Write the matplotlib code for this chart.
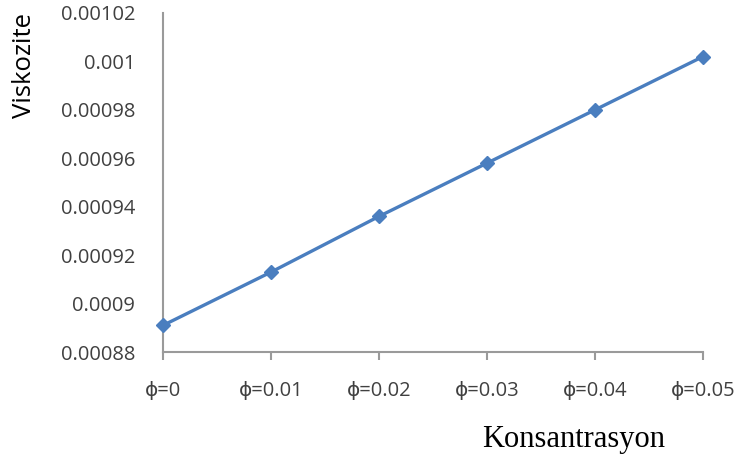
import matplotlib
matplotlib.use("Agg")
import matplotlib.pyplot as plt
from matplotlib.ticker import FixedLocator

categories = ["\u03d5=0", "\u03d5=0.01", "\u03d5=0.02", "\u03d5=0.03", "\u03d5=0.04", "\u03d5=0.05"]
viscosity = [0.000891, 0.000913, 0.000936, 0.000958, 0.000980, 0.001002]
y_ticks = [0.00088, 0.0009, 0.00092, 0.00094, 0.00096, 0.00098, 0.001, 0.00102]
y_tick_labels = ["0.00088", "0.0009", "0.00092", "0.00094", "0.00096", "0.00098", "0.001", "0.00102"]

fig = plt.figure(figsize=(7.41, 4.66), dpi=100)
ax = fig.add_axes([163 / 741, 1 - 352 / 466, 540 / 741, 339 / 466])

x = list(range(len(categories)))
ax.plot(x, viscosity, color="#4A7EBF", lw=2.4, marker="D", ms=7,
        markerfacecolor="#4A7EBF", markeredgecolor="#4A7EBF", clip_on=False, zorder=3)

ax.set_xlim(0, len(categories) - 1)
ax.set_ylim(0.00088, 0.00102)
ax.yaxis.set_major_locator(FixedLocator(y_ticks))
ax.set_yticklabels(y_tick_labels)
ax.set_xticks(x)
ax.set_xticklabels(categories)

for s in ["top", "right"]:
    ax.spines[s].set_visible(False)
for s in ["left", "bottom"]:
    ax.spines[s].set_color("#9a9a9a")
    ax.spines[s].set_linewidth(1.5)

ax.tick_params(axis="y", length=0, pad=20, colors="#404040", labelsize=14.5)
ax.tick_params(axis="x", length=6, width=1.5, direction="out", color="#9a9a9a",
               pad=15, labelcolor="#404040", labelsize=14.5)
for lab in ax.get_xticklabels() + ax.get_yticklabels():
    lab.set_fontfamily(["Open Sans", "DejaVu Sans"])

fig.text(25 / 741, 1 - 66 / 466, "Viskozite", rotation=90, ha="center", va="center",
         fontsize=18.5, family=["Open Sans", "DejaVu Sans"], color="#000000")
fig.text(574 / 741, 1 - 440 / 466, "Konsantrasyon", ha="center", va="center",
         fontsize=22, family=["Liberation Serif", "DejaVu Serif"], color="#000000")

fig.savefig("out.png", dpi=100)
